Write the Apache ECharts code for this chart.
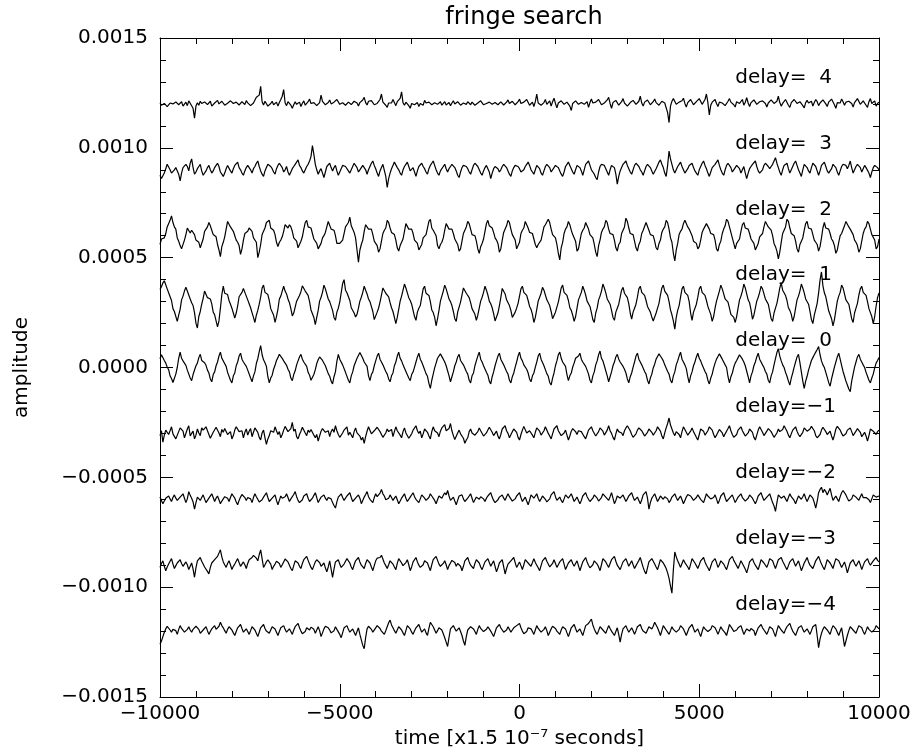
<!DOCTYPE html>
<html>
<head>
<meta charset="utf-8">
<script src="https://cdn.jsdelivr.net/npm/echarts@6/dist/echarts.min.js"></script>
<style>
  html, body { margin: 0; padding: 0; background: #fff; }
  #chart { width: 917px; height: 749px; }
</style>
</head>
<body>
<div id="chart"></div>
<script>
// Time axis in units of 1.5e-7 s; every trace spans the full window evenly
const T_START = -10000;
const T_END = 10000;

// One trace per delay, each drawn around its own baseline
const delays = [4, 3, 2, 1, 0, -1, -2, -3, -4];
const baselines = [0.0012, 0.0009, 0.0006, 0.0003, 0.0, -0.0003, -0.0006, -0.0009, -0.0012];

// Amplitude about each baseline, in units of 1e-6
const traceD4 = [
  5, -6, -15, 2, 10, -12, -8, 4, 12, 0, -5, 9, 15, -4, 3, 10, -10, -2, 8, -8,
  14, 3, -6, -20, -65, -10, 5, -6, 12, 2, -4, 9, 18, -3, 6, 12, -10, -4, 4, 10,
  16, 0, -3, 12, 10, -6, -12, 3, 8, 14, 20, 2, -2, 8, 12, -5, -8, 10, 6, -3,
  15, 5, 2, -8, -14, 4, 10, 30, 25, 40, 80, 10, -5, 12, 8, -10, -18, 2, 12, -4,
  4, 8, -10, 6, 20, 35, 65, 5, -8, 10, 6, -6, -20, -4, 10, -2, 2, 8, -12, 3,
  14, -6, -4, 10, 22, 2, -6, 6, 10, -8, -15, 6, 40, 12, 5, -4, -10, 6, 18, 0,
  -4, 8, 12, 20, 28, -2, -8, 5, 6, -6, -14, 8, 16, -3, 2, 12, 20, 4, -10, 6,
  10, 18, 30, 6, -5, 12, 8, 15, 24, -4, -12, 2, 6, 20, 45, 8, 10, -6, -16, 4,
  12, 4, 20, 6, -8, 10, 4, 25, 55, 5, -6, 8, 14, -8, -20, 2, 10, -4, 2, 6,
  -12, 2, 8, -6, 16, 4, -4, 8, 6, -4, -10, 5, 12, -2, 4, 10, -6, 2, 10, -5,
  2, 6, -8, 4, 14, 0, -2, 10, 8, -6, -12, 4, 6, -2, 10, 2, -4, 8, 2, -6,
  -10, 4, 6, 14, 12, -4, -6, 2, 4, 8, 10, -2, -8, 6, 14, -4, 0, 9, 6, -5,
  -10, 8, 18, 2, 4, 12, 8, -4, -6, 10, 22, 2, -4, 8, 12, 20, 28, -6, 2, 8,
  -12, 10, 45, 4, 8, -6, -14, 6, 20, -2, 6, 14, -10, 10, 26, 2, -18, 4, 10, 14,
  18, -2, -6, 8, 12, -10, -30, 2, 8, 14, 20, -2, -10, 6, 14, -2, 4, 10, -16, 6,
  22, 4, -4, 8, 10, 20, 16, -4, -12, 4, 8, 18, 30, 2, -20, 6, 6, 16, 14, -6,
  -8, 10, 24, 4, 2, -10, -14, 6, 10, 16, 20, -2, -6, 12, 35, 4, -10, 8, 6, 18,
  16, -4, -12, 10, 22, 6, 4, -6, -8, 12, 18, 4, -4, -40, -85, -10, 12, 24, 20, -2,
  -10, 8, 6, 14, 26, 2, -14, 6, 10, 20, 18, -4, -6, 10, 14, 24, 22, -2, -8, 20,
  45, 6, -50, -6, 8, 14, 20, 2, -12, 8, 16, 4, 4, -8, -10, 12, 24, 8, 6, -4,
  -14, 10, 18, 2, 10, 20, -6, 8, 28, 4, -12, 6, 12, 18, 20, -2, -8, 10, 6, 14,
  22, 2, -14, 4, 10, 18, 16, 2, -4, 12, 35, 6, -10, 2, 8, 20, 18, -6, -16, 6,
  12, 20, 24, 2, -6, 10, 8, -8, -18, 6, 16, 4, 4, 12, -10, 6, 20, 10, -8, 4,
  10, 18, 26, 0, -12, 8, 6, 22, 16, -4, -20, 6, 12, 4, 22, 10, -6, 8, 4, 12,
  18, 2, -14, 6, 10, 24, 20, -2, -8, 14, 12, -6, -16, 10, 24, 2, 6, 14, -10, 2,
  8
];

const traceD3 = [
  -25, -40, -45, -15, 5, 25, 20, 0, -15, -8, 0, 10, 15, -20, -50, -15, 10, 5, 25, 15,
  -5, 30, 50, 10, -20, -10, 5, 15, 25, -5, -25, -20, -5, 10, 20, 0, -15, -5, 10, 20,
  30, 15, -10, -20, -30, -15, 5, 20, 15, -5, -15, 5, 20, 25, 35, 10, 0, -15, -25, -5,
  10, 20, 25, 0, -15, 5, 15, 30, 40, 15, -5, -20, -30, -5, 10, 25, 30, 15, 5, -10,
  -20, 5, 20, 30, 35, 10, -10, 0, 15, -10, -25, -10, 5, 15, 25, 35, 45, 20, 10, -5,
  -15, 0, 15, 25, 40, 60, 110, 70, 25, 0, -20, -5, 5, -15, -35, -10, 15, 20, 30, 10,
  -5, 10, 20, -5, -25, -10, 5, 20, 25, 15, 10, -5, -15, 0, 15, 30, 35, 10, -10, 0,
  10, 20, 25, 0, -20, 0, 15, 30, 40, 20, 5, -15, -30, -5, 10, 25, 20, -30, -80, -40,
  -15, 5, 20, 35, 30, 10, 0, -15, -25, 0, 15, 25, 35, 15, -5, 0, 10, -10, -30, -5,
  15, 20, 30, 15, 5, -10, -20, 5, 20, 30, 40, 20, 0, -15, -25, -5, 5, 15, 25, 5,
  -10, 5, 15, 25, 30, 10, -5, -25, -35, -10, 10, 20, 25, 15, 5, -10, -20, 0, 20, 30,
  35, 15, 0, -15, -25, -5, 10, 20, 25, -10, -40, -15, 5, 15, 20, 5, -10, 0, 15, 25,
  30, 10, -5, -20, -30, -5, 10, 20, 25, 15, 5, -10, -15, 0, 15, 25, 35, 20, 0, -10,
  -20, 0, 20, 15, 5, -15, -25, -5, 15, 25, 30, 10, -10, -5, 10, 20, 25, 10, -5, -20,
  -30, -10, 15, 25, 35, 20, 5, -10, -20, 0, 20, 25, 10, -5, -25, 0, 25, 30, 40, 20,
  0, -10, -20, -35, -45, -10, 15, 25, 30, 20, 5, -10, -25, 0, 20, 25, 10, -20, -65, -30,
  -5, 10, 25, 30, 40, 20, 5, -10, -20, 0, 20, 30, 35, 15, 0, -10, -25, -5, 15, 25,
  30, 10, -5, -20, -15, 5, 20, 35, 45, 25, 10, -15, -30, 20, 85, 50, 25, 0, -15, 0,
  15, 25, 35, 15, 0, -15, -20, 5, 20, 25, 30, 10, -5, -15, -25, 0, 15, 30, 40, 20,
  5, -15, -30, -10, 10, 15, 25, 35, 45, 20, 0, -15, -25, 0, 20, 30, 35, 10, -10, 0,
  10, 20, 25, 5, -15, 0, 15, -15, -40, -15, 5, 15, 25, 30, 40, 15, -5, -15, -20, 0,
  20, 30, 35, 15, 5, 15, 25, 40, 55, 30, 10, -10, -25, 0, 20, 25, 30, 5, -15, 0,
  15, 30, 40, 20, 0, -15, -30, 0, 25, 20, 10, -5, -15, 10, 30, 25, 15, -5, -25, -5,
  20, 25, 35, 15, -5, -15, -20, 5, 25, 20, 10, -10, -25, -5, 15, 25, 30, 20, 5, 20,
  40, 10, -15, 0, 15, 25, 30, 10, -10, 5, 20, 10, 5, -15, -35, -10, 10, 20, 25, 10,
  0
];

const traceD2 = [
  -40, -15, -20, -10, 10, 40, 45, 70, 90, 60, 40, 30, -10, -25, -45, -60, -60, -20, 5, 35,
  35, 12, 25, 18, 5, -20, -20, -30, -55, -50, -15, 20, 30, 40, 60, 45, 25, 5, 5, -5,
  -40, -65, -95, -50, -30, -5, 30, 65, 70, 40, 35, 20, 0, -20, -30, -45, -85, -60, -20, 10,
  15, 20, 35, 35, 20, -10, -10, -30, -100, -75, -40, 5, 20, 35, 60, 65, 70, 35, 30, 25,
  5, -30, -50, -30, -20, -5, 20, 50, 55, 35, 50, 40, 20, -10, -10, -25, -55, -55, -25, -5,
  30, 60, 70, 40, 40, 35, 10, -15, -20, -35, -60, -60, -35, -10, 0, 15, 40, 65, 65, 30,
  25, 25, 0, -35, -40, -35, -30, -20, 10, 40, 50, 60, 85, 45, 30, 15, -10, -65, -120, -65,
  -40, -20, 20, 50, 55, 30, 30, 30, 5, -25, -30, -45, -75, -60, -25, 10, 25, 35, 70, 60,
  35, 15, 15, 5, -20, -55, -70, -45, -30, -15, 20, 55, 60, 30, 30, 30, 10, -20, -25, -35,
  -65, -65, -40, -10, -5, 5, 35, 65, 75, 35, 25, 25, 0, -45, -60, -40, -30, -10, 25, 55,
  60, 30, 30, 30, 10, -15, -20, -40, -70, -60, -25, 10, 25, 40, 65, 55, 30, 5, 5, 0,
  -25, -60, -80, -50, -35, -15, 20, 55, 70, 45, 40, 35, 15, -10, -20, -35, -75, -60, -20, 15,
  30, 45, 70, 60, 30, 5, 5, -20, -60, -55, -30, 10, 25, 35, 65, 60, 35, 15, 10, 10,
  -15, -40, -55, -40, -35, -20, 10, 40, 50, 50, 75, 60, 30, 5, 0, -10, -40, -80, -110, -55,
  -30, 10, 30, 40, 65, 50, 25, 5, 5, -25, -70, -60, -25, 10, 25, 35, 60, 55, 30, 5,
  0, -10, -40, -75, -95, -45, -20, 15, 30, 40, 70, 60, 30, 10, 10, 5, -20, -55, -70, -40,
  -30, 10, 25, 40, 80, 65, 35, 10, 10, 5, -25, -55, -70, -40, -25, 10, 25, 30, 60, 55,
  25, 5, 5, 0, -25, -55, -65, -35, -20, 15, 30, 40, 70, 60, 30, -10, -30, -80, -115, -65,
  -35, 5, 20, 30, 55, 70, 70, 40, 30, 25, 0, -25, -30, -35, -60, -50, -20, 15, 30, 35,
  55, 50, 30, 10, 10, 5, -20, -60, -70, -40, -25, 10, 30, 45, 75, 65, 40, 15, 10, -35,
  -60, -35, -30, -15, 20, 50, 60, 35, 30, 30, 10, -15, -20, -35, -65, -60, -35, -5, 0, 10,
  40, 65, 70, 40, 35, 25, 0, -35, -50, -70, -105, -75, -30, 10, 25, 40, 75, 65, 35, 10,
  5, 0, -25, -60, -75, -40, -25, -10, 25, 55, 65, 35, 30, 30, 5, -20, -30, -40, -70, -50,
  -10, 35, 60, 35, 30, 30, 10, -15, -25, -45, -80, -65, -30, 0, 10, 15, 45, 65, 70, 40,
  30, 30, 5, -20, -30, -45, -75, -60, -25, 10, 30, 40, 65, 55, 30, 5, 0, -20, -60, -50,
  -15
];

const traceD1 = [
  55, 68, 85, 95, 100, 58, 40, 38, 5, -32, -45, -52, -90, -62, -35, 8, 25, 48, 65, 48,
  30, 12, -5, -18, -50, -98, -120, -68, -45, -12, 15, 48, 45, 18, 25, 12, -10, -48, -60, -88,
  -115, -88, -30, 32, 70, 38, 35, 32, 5, -12, -30, -52, -75, -52, -20, 22, 30, 42, 60, 42,
  25, 8, -10, -28, -50, -72, -95, -62, -40, -12, 20, 62, 75, 42, 40, 32, 5, -32, -40, -62,
  -95, -68, -35, 12, 25, 48, 70, 48, 35, 12, -5, -32, -65, -52, -25, 2, 10, 28, 45, 72,
  75, 48, 40, 28, 0, -38, -45, -72, -105, -72, -40, 2, 20, 42, 75, 58, 35, 12, 0, -8,
  -40, -72, -85, -48, -30, -2, 40, 82, 100, 52, 40, 32, 5, -28, -35, -52, -70, -58, -30, 2,
  20, 42, 70, 52, 35, 12, 0, -8, -45, -82, -90, -48, -30, -2, 30, 62, 65, 38, 30, 22,
  -5, -28, -45, -72, -100, -72, -35, 2, 25, 52, 80, 62, 40, 18, 5, -12, -40, -68, -85, -48,
  -30, -18, 20, 58, 70, 38, 30, 28, 0, -38, -50, -72, -110, -78, -40, 2, 25, 48, 75, 58,
  35, 12, 0, -18, -45, -78, -90, -48, -25, -2, 30, 62, 65, 38, 30, 18, -5, -32, -40, -58,
  -85, -62, -30, 2, 20, 42, 70, 52, 30, 2, -10, -28, -55, -88, -95, -52, -20, 18, 60, 58,
  35, 8, 0, -18, -40, -72, -80, -48, -30, -8, 25, 58, 70, 42, 40, 28, 5, -22, -35, -58,
  -95, -72, -35, 2, 20, 38, 65, 52, 30, 8, 0, -18, -45, -78, -85, -48, -25, -2, 30, 62,
  75, 42, 35, 28, 5, -28, -40, -62, -90, -68, -30, 8, 25, 42, 70, 52, 30, 2, -5, -22,
  -50, -82, -95, -52, -30, 8, 25, 48, 80, 62, 40, 12, 5, -12, -40, -72, -85, -48, -30, -12,
  20, 52, 65, 38, 30, 18, -10, -52, -80, -48, -30, -12, 20, 58, 70, 42, 35, 28, 5, -22,
  -35, -48, -70, -88, -90, -52, -30, -8, 30, 62, 75, 48, 40, 28, 0, -38, -60, -88, -125, -72,
  -40, -18, 20, 58, 70, 42, 35, 28, 0, -52, -85, -48, -30, -12, 20, 58, 70, 42, 35, 28,
  5, -22, -40, -58, -90, -68, -30, 2, 25, 48, 75, 58, 35, 12, 5, -2, -30, -58, -65, -72,
  -95, -68, -30, 8, 25, 48, 80, 62, 35, 8, -5, -38, -80, -62, -30, 2, 20, 42, 70, 58,
  35, 12, 0, -12, -45, -78, -90, -52, -30, -8, 25, 62, 85, 52, 40, 28, 5, -28, -40, -58,
  -90, -68, -30, 8, 25, 48, 80, 62, 40, 12, 5, -12, -45, -82, -100, -62, -35, -8, 40, 98,
  135, 72, 40, 22, -10, -42, -60, -78, -110, -82, -40, 2, 25, 42, 75, 62, 35, 8, 0, -12,
  -45, -78, -95, -52, -30, -8, 30, 58, 70, 42, 35, 28, 0, -32, -50, -68, -100, -68, -20, 18,
  40
];

const traceD0 = [
  40, 58, 60, 32, 20, 2, -10, -38, -50, -68, -75, -30, 0, 42, 70, 42, 30, 28, 10, -12,
  -20, -48, -60, -32, -25, 8, 20, 45, 60, 32, 25, 22, 10, -12, -25, -52, -65, -32, -20, 8,
  25, 52, 70, 42, 30, 22, 5, -22, -30, -58, -70, -38, -25, 8, 25, 52, 65, 38, 25, 18,
  5, -12, -20, -48, -65, -38, -20, 18, 40, 72, 100, 58, 35, 22, 5, -42, -70, -48, -35, -8,
  10, 32, 45, 60, 65, 42, 30, 22, 10, -8, -20, -48, -60, -32, -15, 12, 30, 48, 60, 38,
  25, 18, 5, -22, -35, -58, -65, -32, -10, 18, 35, 48, 55, 32, 25, 8, 0, -28, -40, -62,
  -75, -42, -20, 28, 60, 38, 30, 12, 5, -22, -30, -58, -70, -38, -20, 8, 25, 42, 55, 68,
  70, 42, 25, 18, 5, -38, -60, -32, -20, 8, 30, 52, 65, 38, 25, 12, 5, -18, -30, -52,
  -65, -38, -25, 8, 25, 52, 70, 42, 30, 12, 5, -18, -25, -48, -60, -32, -20, 2, 25, 48,
  65, 38, 25, 8, 0, -28, -40, -72, -95, -58, -30, -2, 20, 42, 50, 62, 70, 38, 25, 8,
  0, -38, -65, -42, -20, 8, 25, 48, 60, 32, 25, 12, 5, -18, -30, -58, -70, -38, -25, 8,
  30, 52, 70, 38, 25, 8, 0, -22, -35, -62, -75, -42, -20, 8, 30, 52, 65, 38, 30, 12,
  5, -18, -30, -58, -70, -42, -25, 2, 25, 52, 70, 42, 30, 12, 5, -8, -25, -52, -65, -38,
  -25, 2, 25, 52, 65, 38, 30, 8, 0, -28, -40, -68, -80, -48, -25, 8, 30, 58, 70, 42,
  25, 22, 5, -32, -60, -38, -25, 2, 20, 42, 50, 52, 65, 38, 25, 18, 5, -12, -30, -58,
  -70, -38, -20, 12, 30, 58, 75, 42, 30, 8, 0, -38, -65, -42, -20, 8, 25, 48, 60, 38,
  25, 18, 5, -8, -25, -52, -70, -42, -25, 2, 25, 52, 65, 38, 25, 12, 5, -18, -30, -58,
  -75, -48, -30, -2, 15, 38, 50, 62, 70, 42, 30, 12, 5, -18, -30, -58, -70, -38, -20, 12,
  30, 52, 70, 38, 25, 12, -5, -42, -70, -38, -20, 8, 25, 48, 65, 42, 30, 12, 5, -18,
  -30, -58, -75, -48, -30, -2, 20, 38, 50, 62, 70, 38, 25, 12, 0, -42, -70, -42, -25, 2,
  20, 32, 45, 58, 65, 38, 25, 8, 0, -42, -70, -38, -20, 8, 25, 48, 65, 38, 25, 12,
  0, -18, -30, -58, -70, -38, -20, 12, 40, 68, 85, 52, 30, 12, 0, -22, -40, -62, -80, -48,
  -25, 2, 25, 48, 60, 22, -20, -62, -95, -62, -40, -12, 10, 32, 45, 58, 70, 82, 95, 58,
  30, 12, 0, -22, -45, -68, -85, -52, -25, 2, 25, 48, 65, 38, 10, -18, -40, -62, -80, -98,
  -110, -62, -30, 2, 25, 48, 60, 38, 25, 12, 0, -22, -40, -58, -70, -48, -30, -2, 20, 32,
  45
];

const traceDm1 = [
  -10, 12, -40, -8, 15, 22, -5, 12, 30, -2, 5, -25, -20, 8, 25, 30, 10, -20, -15, 20,
  35, -12, 0, 10, -25, -8, 20, 2, -10, 25, 15, 8, 30, 12, -5, -22, -30, 5, 10, 28,
  25, 2, -15, 18, 5, 22, 30, -5, -10, 8, -25, -10, 15, 30, 35, 8, 0, 12, -20, 5,
  20, -8, 10, 22, -15, 5, 25, 15, 5, -18, -30, 2, 15, -20, -50, -25, -10, 12, 20, 5,
  30, 12, -5, 8, -20, -5, 15, 32, 25, 8, 0, 22, 50, 10, 20, -15, -25, -5, 10, 28,
  30, 2, -10, 15, 5, 18, 25, -8, -20, -5, -35, -12, 10, 22, 30, 5, 0, 12, -15, 8,
  20, 5, 35, 12, -5, -18, -25, 2, 15, 22, 30, -8, 5, 10, -20, 8, 25, 2, 10, -12,
  -30, -18, -45, -15, 10, 30, 25, -2, -10, 12, 15, 28, 35, 8, 0, -18, -25, 2, 20, 8,
  5, 18, -15, 8, 30, 12, 10, -8, -20, 8, 25, 2, -5, -22, -30, -2, 15, 22, 35, 12,
  0, 10, -20, -2, 20, 25, 5, -12, -25, 8, 30, 12, 15, 2, -15, 10, 25, 18, 40, 12,
  5, 22, 45, 12, -10, -28, -25, 2, 15, -2, 0, -22, -45, -30, -20, 8, 20, 2, 10, -8,
  -15, 8, 25, 12, 5, -12, -20, 2, 15, 28, 30, 5, -10, -15, 10, -12, -25, -5, 20, 12,
  35, 12, 0, -20, -15, 8, 20, 12, 5, -18, -30, -5, 15, 32, 25, 2, -5, 12, 10, -8,
  -20, 5, 25, 18, 10, -8, -15, 12, 30, 15, 0, -12, -25, -2, 20, 28, 35, 12, 5, -10,
  -15, 2, 15, -8, -30, -12, 10, 22, 25, 8, -5, 12, 20, 8, 0, -15, -25, -5, 15, 22,
  30, 12, 5, -12, -20, 8, 25, 18, 10, -8, -15, 15, 35, 12, 0, -18, -30, -2, 20, 8,
  10, 2, -10, 12, 25, 35, 40, 12, -5, -18, -25, -2, 15, 25, 30, 12, 0, -12, -20, 5,
  20, 12, 5, -8, -15, 12, 30, 22, 10, -12, -25, 2, 25, 45, 70, 38, 20, 2, -10, 8,
  15, -5, -20, 8, 30, 18, 5, -8, -15, 10, 25, 8, 0, -18, -30, -5, 20, 25, 10, -8,
  -10, 12, 30, 22, 15, -5, -20, -8, 5, 18, 25, 2, -15, -2, 10, 22, 35, 12, -5, -18,
  -25, -5, 15, 22, 30, 12, 0, -12, -20, 2, 20, 12, 5, -18, -30, -8, 15, 30, 25, 5,
  -10, -2, 10, 22, 30, 8, -5, -18, -25, 2, 20, 8, 0, 18, 35, 22, 10, -8, -20, -2,
  15, 22, 30, 10, -5, -15, -20, 5, 25, 18, 10, 2, 20, 32, 40, 12, -10, -20, -25, -5,
  15, 28, 25, 8, -5, 2, 10, -12, -30, -8, 20, 32, 35, 15, 0, -12, -20, -2, 15, 22,
  25, 8, -10, -2, 10, 22, 30, 5, -15, -8, 5, -12, -35, -10, 20, 28, 10, 2, -5, 8,
  15
];

const traceDm2 = [
  10, -5, -20, -8, 5, 12, 15, 2, -10, 8, 20, 5, -5, 2, 10, 18, 25, 5, -15, 2,
  35, 18, 5, -12, -45, -15, 10, 5, -5, 8, 20, 2, -15, -8, 5, 12, 25, 8, -10, 5,
  15, -2, -20, -8, 0, 12, 20, 5, -10, 8, 25, 15, 5, -12, -25, -5, 10, 22, 30, 8,
  -5, 8, 15, 2, -15, 8, 25, 12, 0, -12, -20, -2, 10, 18, 30, 8, -10, -2, 5, 12,
  20, -5, -25, -5, 15, 5, 0, 12, 25, 8, -10, 2, 10, 22, 35, 12, -5, -15, -20, -2,
  15, 8, 25, 5, -10, -5, 5, 18, 30, 8, -15, -2, 10, 15, 20, 5, -5, 8, 15, 2,
  -15, -28, -40, -12, 10, 18, 25, 8, -5, 5, 15, 22, 30, 8, -10, -2, 5, 12, 20, 5,
  -20, -5, 10, 22, 35, 12, 0, -8, -15, 8, 25, 12, 10, 28, 45, 25, 15, -2, -10, 5,
  20, 8, -5, 5, 15, -2, -20, -8, 5, 12, 25, 5, -10, -2, 10, 18, 30, 12, 0, -8,
  -15, 2, 20, 12, 5, -5, -10, 8, 25, 15, 10, -5, -20, -2, 15, 8, 5, 18, 30, 20,
  40, 15, -5, 2, 10, -8, -25, -5, 15, 8, 20, 2, -10, -5, 5, 15, 25, 5, -15, -2,
  10, 5, 0, 12, 20, 2, -10, 5, 15, 22, 30, 10, -5, -15, -20, -2, 10, 15, 20, 5,
  -5, 12, 25, 12, 5, -8, -15, 2, 15, 22, 30, 8, -10, -2, 10, -8, -25, -5, 20, 12,
  5, 15, 25, 5, -10, 2, 15, 8, 0, -12, -20, 2, 20, 28, 35, 12, -5, -2, 10, -5,
  -15, 2, 20, 12, 5, 15, 25, 8, -10, -2, 10, -5, -20, -5, 15, 22, 30, 12, 0, -10,
  -10, 5, 20, 12, 5, -8, -15, 8, 25, 18, 10, 2, -5, 12, 30, 5, -20, -5, 15, 8,
  5, 12, 20, 5, -10, 2, 15, 22, 30, 10, -5, 2, 10, -5, -20, -2, 20, 28, 35, 5,
  -45, -15, 5, 15, 25, 8, -10, 2, 15, 8, 0, 12, 20, 2, -15, -5, 10, 18, 25, 8,
  -5, 5, 15, -2, -20, -5, 10, 22, 30, 15, 5, -5, -10, 8, 20, 10, 0, -8, -15, 5,
  25, 15, 10, 2, -5, 8, 20, 2, -20, -5, 15, 22, 30, 8, -10, -2, 5, 12, 20, 2,
  -15, -2, 10, 18, 25, 8, 0, -8, -10, 5, 20, 12, 5, -8, -20, -5, 15, 22, 30, 10,
  -5, 2, 10, 18, 25, 5, -15, -30, -55, -15, 20, 12, 5, 8, 15, 2, -10, 8, 25, 12,
  10, -5, -20, -2, 15, 8, 0, 12, 25, 5, -10, 5, 20, 12, 5, -15, -40, -10, 30, 45,
  55, 30, 45, 35, 20, 35, 50, 20, -5, 5, 15, 2, -10, 12, 30, 40, 45, 20, 5, -8,
  -15, 2, 20, 15, 10, 2, -5, 12, 25, 8, 0, 8, 15, -2, -15, 2, 20, 12, 10, 5,
  15
];

const traceDm3 = [
  -10, 8, 20, -5, -25, -8, 5, 18, 30, 5, -15, -2, 10, 18, 25, 8, -5, 2, 15, 2,
  -20, -5, 10, -18, -55, -12, 20, 28, 35, 18, 5, -8, -15, -28, -40, -10, 10, 18, 25, 32,
  40, 55, 70, 38, 15, 2, -10, 8, 20, 2, -20, -5, 5, 18, 30, 12, -5, 5, 15, 2,
  -15, 8, 25, 30, 35, 45, 50, 32, 20, 48, 70, 30, -10, 2, 15, 25, 30, 5, -20, -5,
  5, 18, 25, 8, -10, 2, 15, 28, 35, 15, 0, -15, -25, -2, 20, 15, 10, -5, -15, 8,
  25, 30, 40, 22, 5, -10, -20, -2, 15, 25, 30, 12, -5, 2, 10, -12, -30, -8, 20, -18,
  -55, -18, 15, 22, 25, 5, -10, -2, 5, 18, 30, 22, 10, -8, -20, 2, 20, 28, 35, 15,
  0, -8, -15, 8, 25, 18, 10, -8, -25, -2, 20, 32, 40, 35, 45, 28, 10, -2, -15, 2,
  20, 12, 5, -8, -20, 8, 30, 22, 10, -2, -10, 12, 25, 2, -25, -8, 15, 22, 35, 15,
  0, -10, -15, 2, 20, 18, 10, -8, -25, 2, 25, 32, 40, 22, 5, -5, -10, 8, 20, 2,
  -20, -2, 10, 22, 30, 12, -5, 8, 15, -5, -25, -5, 20, 25, 35, 15, 0, -8, -15, 8,
  25, 18, 10, -8, -20, -2, 15, 22, 30, 12, -5, 8, 20, -5, -30, -12, 10, 18, 25, -8,
  -40, -15, 5, 12, 20, 28, 35, 12, -10, 2, 15, -2, -20, 2, 25, 18, 10, 2, -5, 12,
  30, 12, 0, -12, -25, -2, 20, 28, 35, 18, 5, -8, -15, 8, 25, 8, -10, 2, 15, 22,
  30, 5, -20, -5, 10, 18, 25, 8, -5, 8, 20, -2, -25, -5, 15, 22, 35, 15, 0, -12,
  -15, 2, 20, 12, 5, -8, -25, 2, 30, 22, 15, 2, -10, 8, 25, 32, 40, 18, 0, -10,
  -20, -2, 15, 22, 30, 12, -5, 8, 20, 2, -15, -2, 10, 22, 35, 12, -10, -28, -40, -12,
  15, 22, 30, 18, 5, -8, -20, 2, 25, 18, 10, -2, -15, -35, -60, -95, -127, -20, 60, 38,
  20, 5, -10, 8, 25, 12, 5, -8, -20, 5, 30, 22, 10, -2, -15, 2, 20, 28, 35, 15,
  0, -12, -25, -5, 15, 22, 30, 12, -10, 2, 20, 12, 5, -8, -20, 2, 25, 32, 40, 22,
  10, -2, -15, 2, 20, 8, -5, -18, -35, -12, 15, 22, 30, 12, 0, -8, -20, 2, 25, 18,
  10, 2, -10, 8, 30, 25, 20, 2, -15, 5, 25, 32, 35, 18, 5, -8, -20, -2, 15, 22,
  30, 12, -5, 8, 20, -2, -25, -8, 10, 22, 35, 15, 0, -8, -15, 2, 20, 28, 40, 22,
  5, -8, -20, 2, 25, 18, 10, -2, -15, 8, 30, 25, 20, 5, -10, 2, 15, -8, -35, -12,
  10, 18, 25, 8, -5, 8, 20, 2, -20, -2, 15, 22, 30, 12, 0, 8, 20, 28, 35, 22,
  15
];

const traceDm4 = [
  -60, -45, -25, -5, 10, 22, 20, 5, -5, 8, 15, 2, -15, 8, 25, 12, 5, -5, -10, 8,
  20, 5, -5, 8, 15, 22, 30, 8, -10, -2, 5, 12, 20, 2, -15, -2, 10, 18, 25, 8,
  0, 22, 40, 25, 15, 2, -10, 8, 20, 12, 5, -8, -20, -2, 15, 22, 30, 12, -5, 2,
  10, -2, -15, 2, 20, 12, 5, -10, -25, -5, 15, 22, 30, 12, 0, -8, -10, 5, 20, 12,
  10, -5, -20, -2, 15, 22, 25, 8, -5, 2, 10, -2, -15, 5, 20, 28, 35, 15, 0, -12,
  -20, -2, 15, 8, 5, 18, 25, 8, -10, 5, 20, 2, -25, -8, 10, 22, 30, 15, 5, -8,
  -15, 2, 20, 8, 0, -15, -30, -8, 15, 22, 25, 8, -5, 2, 10, -5, -20, -2, 15, -15,
  -40, -65, -80, -30, 10, 22, 25, 8, -5, 2, 15, 25, 30, 12, 0, -8, -15, 2, 20, 38,
  50, 28, 15, 2, -10, 5, 20, 12, 5, -8, -20, 2, 25, 18, 10, -5, -15, 2, 15, 22,
  30, 12, -5, 2, 10, -8, -20, 12, 40, 30, 20, 5, -10, 2, 15, 8, 5, -12, -30, -50,
  -70, -28, 10, 18, 25, 12, 0, 8, 15, -2, -20, -45, -65, -25, 5, 12, 20, 15, 10, -2,
  -15, 8, 25, 12, 5, -2, -10, 8, 20, 10, 0, -12, -25, -5, 15, 22, 30, 15, 5, -5,
  -10, 5, 20, 8, -5, 5, 15, 22, 25, 30, 35, 15, 0, -12, -20, -2, 15, 12, 10, -2,
  -15, 5, 25, 12, 5, -5, -10, 8, 20, 2, -20, -5, 10, 22, 30, 12, 0, -8, -15, 5,
  20, 15, 10, -8, -25, -5, 15, 22, 30, 12, -5, 2, 10, -5, -20, 2, 25, 30, 35, 45,
  55, 28, 10, -5, -15, 2, 20, 12, 5, -2, -10, 8, 25, 12, 0, -8, -20, -2, 15, -15,
  -50, -15, 10, 18, 25, 8, -5, 5, 15, 2, -15, 2, 20, 25, 30, 12, 0, -5, -10, 5,
  20, 12, 10, 22, 40, 28, 15, -2, -20, 2, 25, 15, 5, -5, -15, 2, 20, 8, 0, -5,
  -10, 8, 25, 18, 10, -5, -20, -2, 15, 22, 30, 12, -5, 2, 10, -8, -25, -2, 20, 10,
  5, -2, -10, 8, 25, 20, 15, 2, -15, 2, 20, 8, 0, -8, -20, 5, 30, 22, 10, -2,
  -5, 5, 15, 22, 25, 5, -15, -2, 10, 5, 0, 12, 20, 2, -20, -2, 15, 22, 30, 15,
  5, -5, -15, 2, 20, 15, 10, -8, -25, 2, 25, 15, 5, -2, -10, 8, 20, 28, 35, 15,
  0, -8, -20, -2, 15, 22, 25, 8, -5, 2, 10, -2, -15, 2, 20, 28, 30, -20, -75, -35,
  -10, 8, 20, 12, 5, -5, -15, 8, 25, 18, 10, -5, -20, -2, 15, -25, -70, -45, -20, 2,
  20, 12, 5, -2, -10, 8, 25, 20, 15, -2, -15, 2, 20, 8, 0, -5, -10, 8, 25, 18,
  10
];

const traces = [traceD4, traceD3, traceD2, traceD1, traceD0, traceDm1, traceDm2, traceDm3, traceDm4];

// Axis ranges and tick spacing
const X_MIN = -10000, X_MAX = 10000, X_INTERVAL = 5000;
const Y_MIN = -0.0015, Y_MAX = 0.0015, Y_INTERVAL = 0.0005;

// Where each "delay=" caption sits: left edge in time, height above its baseline
const LABEL_T = 6000;
const LABEL_RISE = 0.00012;

const FONT = '"DejaVu Sans", "Liberation Sans", sans-serif';
const INK = '#000';

function withMinus(s) { return s.replace('-', '\u2212'); }

function delayText(d) {
  return d < 0 ? 'delay=\u2212' + Math.abs(d) : 'delay=  ' + d;
}

const lineSeries = traces.map((tr, k) => {
  const step = (T_END - T_START) / (tr.length - 1);
  return {
    type: 'line',
    name: delayText(delays[k]),
    xAxisIndex: 0,
    yAxisIndex: 0,
    data: tr.map((d, i) => [T_START + i * step, baselines[k] + d * 1e-6]),
    showSymbol: false,
    symbol: 'none',
    silent: true,
    lineStyle: { color: '#000', width: 1.2 },
    z: 2
  };
});

const captionSeries = {
  type: 'scatter',
  xAxisIndex: 0,
  yAxisIndex: 0,
  symbolSize: 0,
  silent: true,
  itemStyle: { opacity: 1 },
  data: delays.map((d, k) => ({ value: [LABEL_T, baselines[k] + LABEL_RISE], name: delayText(d) })),
  label: {
    show: true,
    position: 'right',
    distance: 0,
    formatter: p => p.name,
    fontFamily: FONT,
    fontSize: 20,
    color: INK,
    opacity: 1
  },
  z: 3
};

const tickCommon = {
  axisLine: { show: true, onZero: false, lineStyle: { color: INK, width: 1 } },
  axisTick: { show: true, inside: true, length: 13, lineStyle: { color: INK, width: 1 } },
  minorTick: { show: true, splitNumber: 5, length: 6, lineStyle: { color: INK, width: 1 } },
  splitLine: { show: false },
  minorSplitLine: { show: false }
};

const chart = echarts.init(document.getElementById('chart'), null, { renderer: 'canvas' });

chart.setOption({
  animation: false,
  backgroundColor: '#fff',
  title: {
    text: 'fringe search',
    left: 519,
    top: 1,
    textAlign: 'center',
    textStyle: { fontFamily: FONT, fontSize: 24, fontWeight: 'normal', color: INK }
  },
  grid: { left: 160, right: 38, top: 38, bottom: 52, containLabel: false, outerBoundsMode: 'none' },
  xAxis: [
    Object.assign({
      type: 'value', position: 'bottom', min: X_MIN, max: X_MAX, interval: X_INTERVAL,
      axisLabel: {
        show: true, margin: 7, fontFamily: FONT, fontSize: 20, color: INK,
        formatter: v => withMinus(String(Math.round(v)))
      },
      name: 'time [x1.5 10\u207B\u2077 seconds]',
      nameLocation: 'middle',
      nameGap: 28,
      nameTextStyle: { fontFamily: FONT, fontSize: 20, color: INK }
    }, tickCommon),
    Object.assign({
      type: 'value', position: 'top', min: X_MIN, max: X_MAX, interval: X_INTERVAL,
      axisLabel: { show: false }
    }, tickCommon)
  ],
  yAxis: [
    Object.assign({
      type: 'value', position: 'left', min: Y_MIN, max: Y_MAX, interval: Y_INTERVAL,
      axisLabel: {
        show: true, margin: 12, fontFamily: FONT, fontSize: 20, color: INK,
        formatter: v => withMinus(v.toFixed(4))
      },
      name: 'amplitude',
      nameLocation: 'middle',
      nameGap: 128,
      nameRotate: 90,
      nameTextStyle: { fontFamily: FONT, fontSize: 20, color: INK }
    }, tickCommon),
    Object.assign({
      type: 'value', position: 'right', min: Y_MIN, max: Y_MAX, interval: Y_INTERVAL,
      axisLabel: { show: false }
    }, tickCommon)
  ],
  series: lineSeries.concat([captionSeries])
});
</script>
</body>
</html>
